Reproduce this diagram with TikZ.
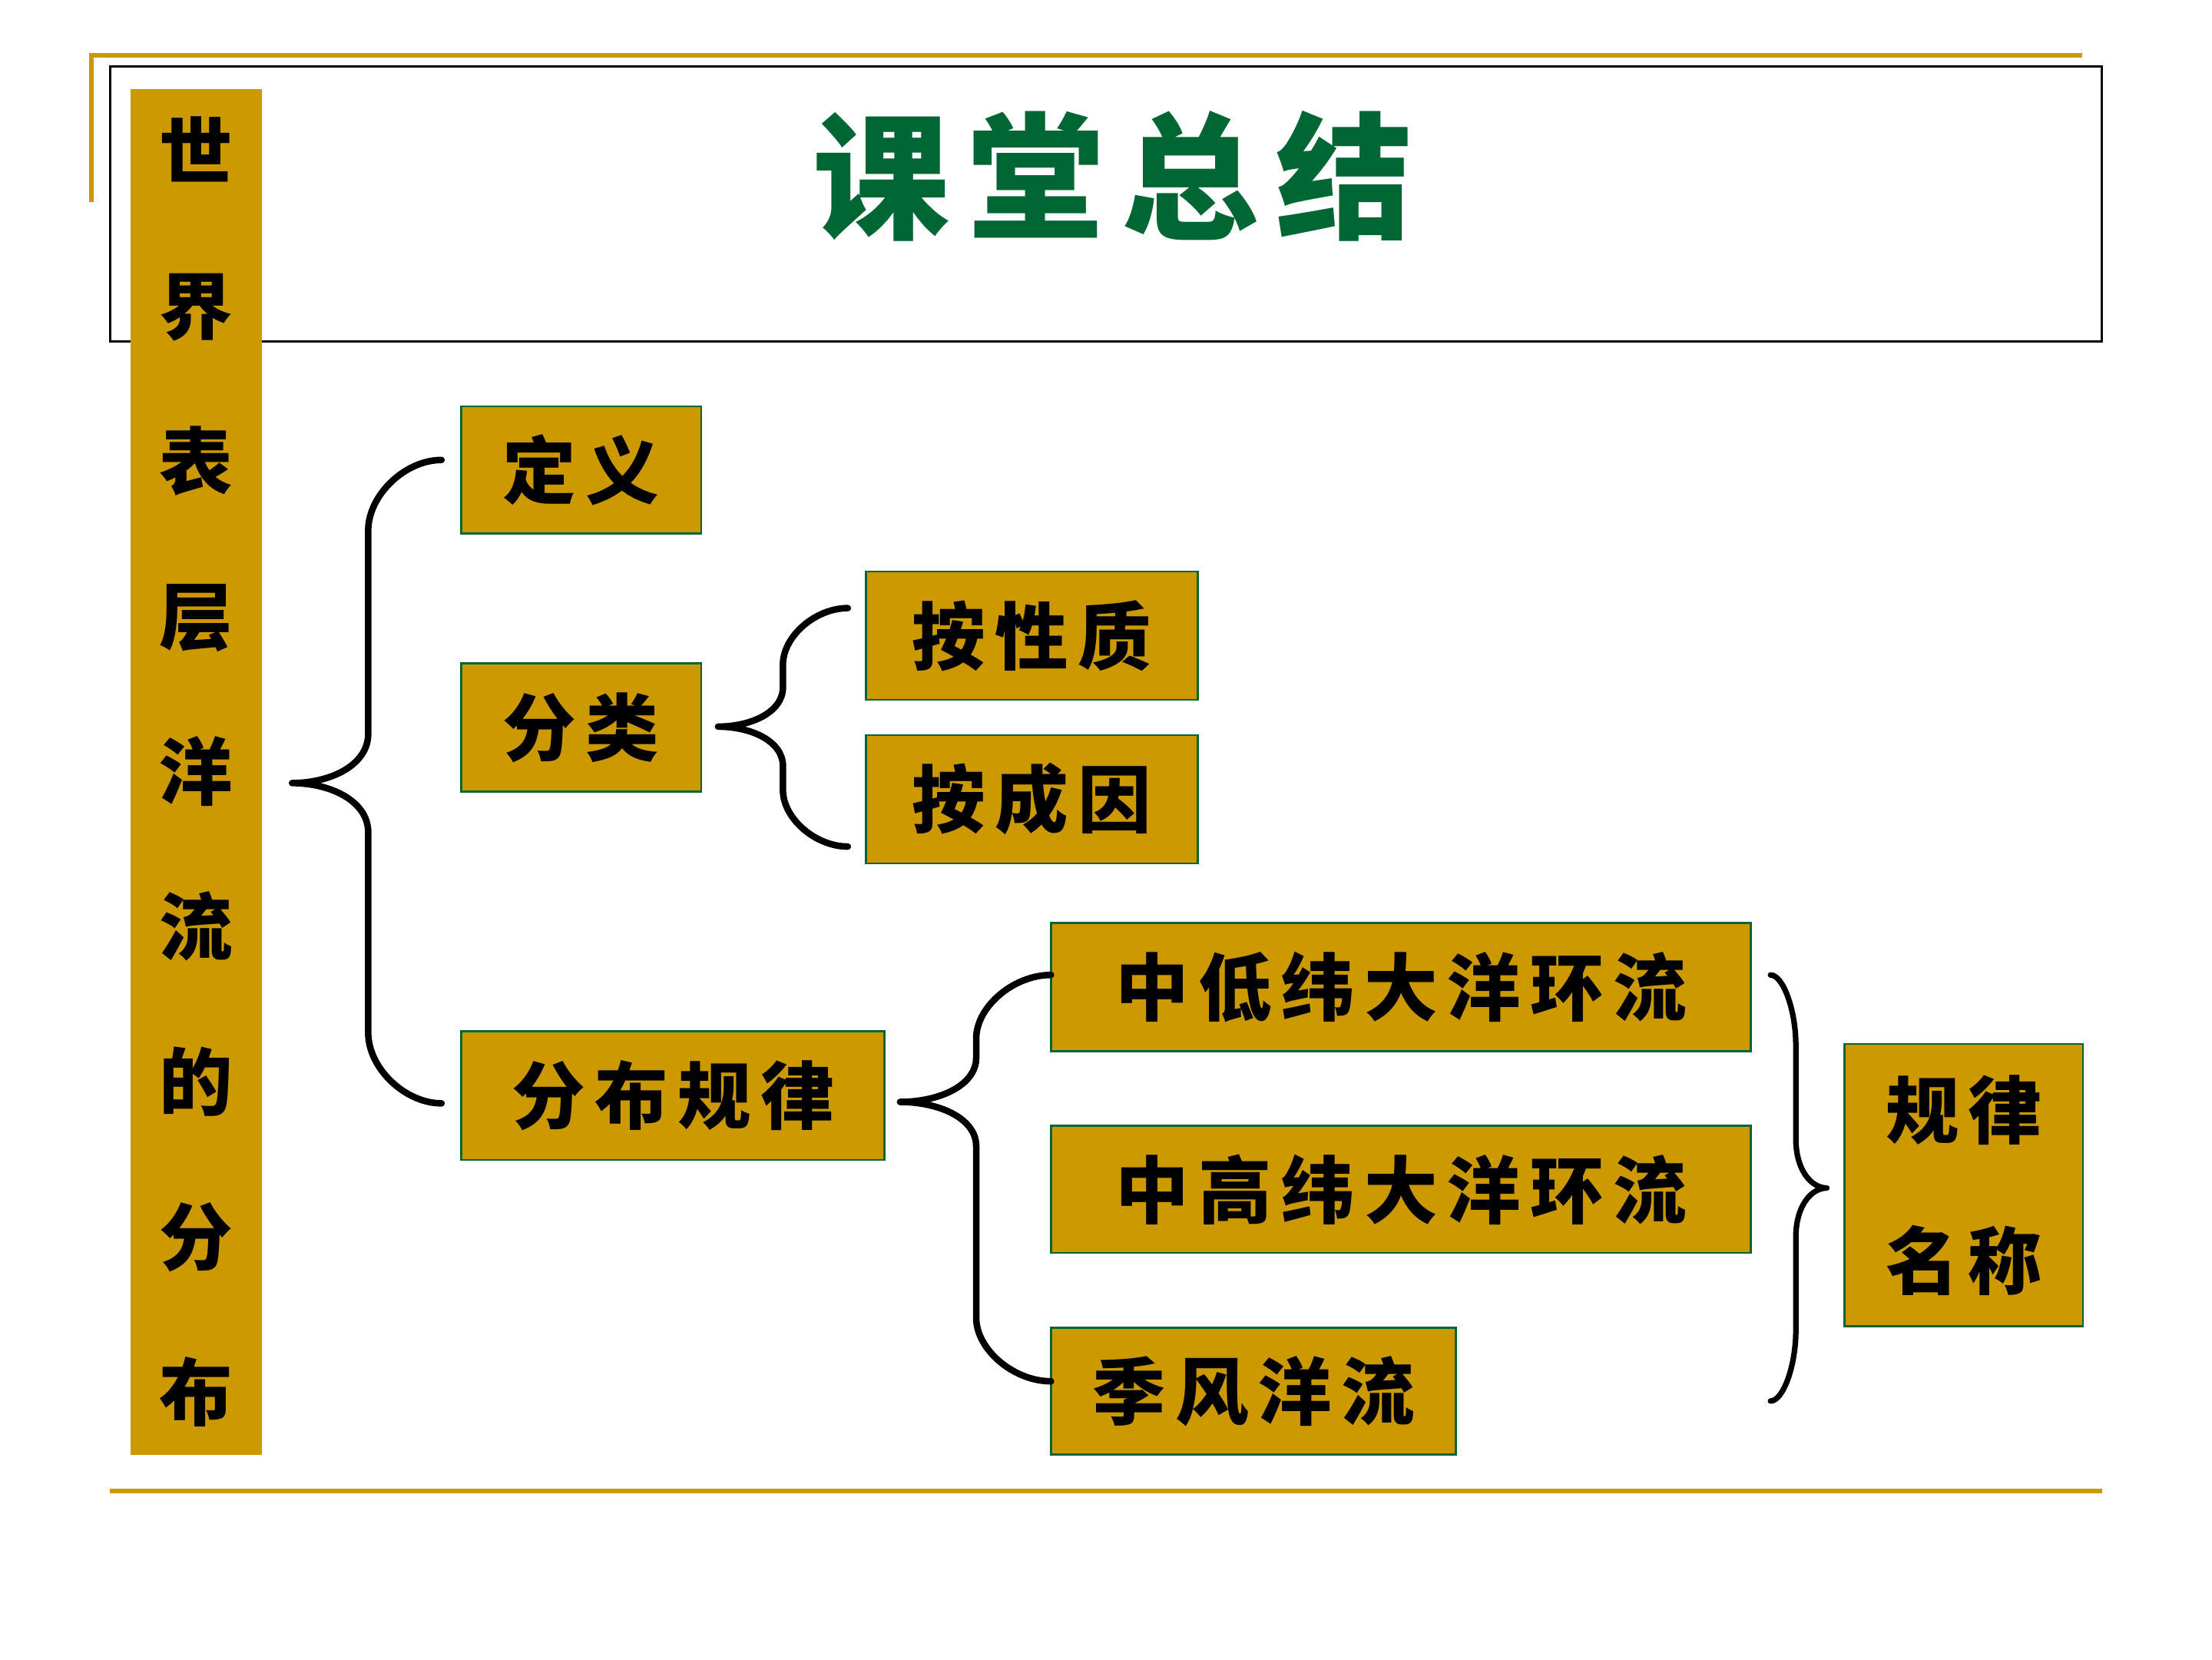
\documentclass[tikz,border=0pt]{standalone}
\usepackage{fontspec}
\newfontfamily\cjk{Noto Sans CJK SC}[LetterSpace=13]
\definecolor{gold}{RGB}{204,153,0}
\definecolor{leaf}{RGB}{0,102,51}

% curly brace: end x, line x, tip x, top y, tip y, bottom y, corner
\newcommand{\curly}[8][]{%
  \draw[brc,#1] (#2,#5) .. controls ({#3+0.5*(#2-#3)},#5) and (#3,{#5+0.5*#8}) .. (#3,{#5+#8})
    -- (#3,{#6-0.7*#8}) .. controls (#3,{#6-0.25*#8}) and ({#3+0.5*(#4-#3)},#6) .. (#4,#6)
    .. controls ({#3+0.5*(#4-#3)},#6) and (#3,{#6+0.25*#8}) .. (#3,{#6+0.7*#8})
    -- (#3,{#7-#8}) .. controls (#3,{#7-0.5*#8}) and ({#3+0.5*(#2-#3)},#7) .. (#2,#7);}

\begin{document}
\begin{tikzpicture}[x=0.25mm,y=-0.25mm,
    box/.style={draw=leaf, line width=1pt, fill=gold, inner sep=0pt, align=center,
      font={\cjk\bfseries\fontsize{37pt}{40pt}\selectfont}},
    brc/.style={line width=3.3pt, line cap=round, line join=round}]
\useasboundingbox[fill=white] (0,0) rectangle (1568,1176);

% frame
\draw[gold, line width=2.3pt] (65,143) -- (65,39) -- (1476,39);
\draw[line width=1.2pt] (78,47) rectangle (1490,242);
\draw[gold, line width=2.3pt] (78,1057) -- (1490,1057);

\node[fill=gold, minimum width=23.25mm, minimum height=242mm, inner sep=0pt, align=center,
  font={\cjk\bfseries\fontsize{37pt}{78.2pt}\selectfont}] (side) at (139,547)
  {世\\界\\表\\层\\洋\\流\\的\\分\\布};

\node[text=leaf, font={\cjk\bfseries\fontsize{69pt}{72pt}\selectfont}] (title) at (789,125) {课堂总结};

\node[box, minimum width=42.5mm, minimum height=22.5mm] (def) at (412,333) {定义};
\node[box, minimum width=42.5mm, minimum height=22.75mm] (cls) at (412,515.5) {分类};
\node[box, minimum width=58.75mm, minimum height=22.75mm] (bynat) at (731.5,450.5) {按性质};
\node[box, minimum width=58.75mm, minimum height=22.75mm] (bycause) at (731.5,566.5) {按成因};
\node[box, minimum width=75mm, minimum height=22.75mm] (distr) at (477,776.5) {分布规律};
\node[box, minimum width=124mm, minimum height=22.75mm] (lowmid) at (993,699.5) {中低纬大洋环流};
\node[box, minimum width=124mm, minimum height=22.5mm] (highmid) at (993,843) {中高纬大洋环流};
\node[box, minimum width=71.75mm, minimum height=22.5mm] (monsoon) at (888.5,986) {季风洋流};
\node[box, minimum width=42.25mm, minimum height=50mm,
  font={\cjk\bfseries\fontsize{37pt}{76pt}\selectfont}] (rule) at (1392,840) {规律\\名称};

% braces
\curly{313}{261}{207}{326}{555}{782}{50}
\curly{601}{555}{509}{431}{515}{600}{40}
\curly{745}{692}{638}{691}{781}{979}{45}
\curly[line width=2.8pt]{1255}{1273}{1295}{691}{842}{993}{50}

\end{tikzpicture}
\end{document}
